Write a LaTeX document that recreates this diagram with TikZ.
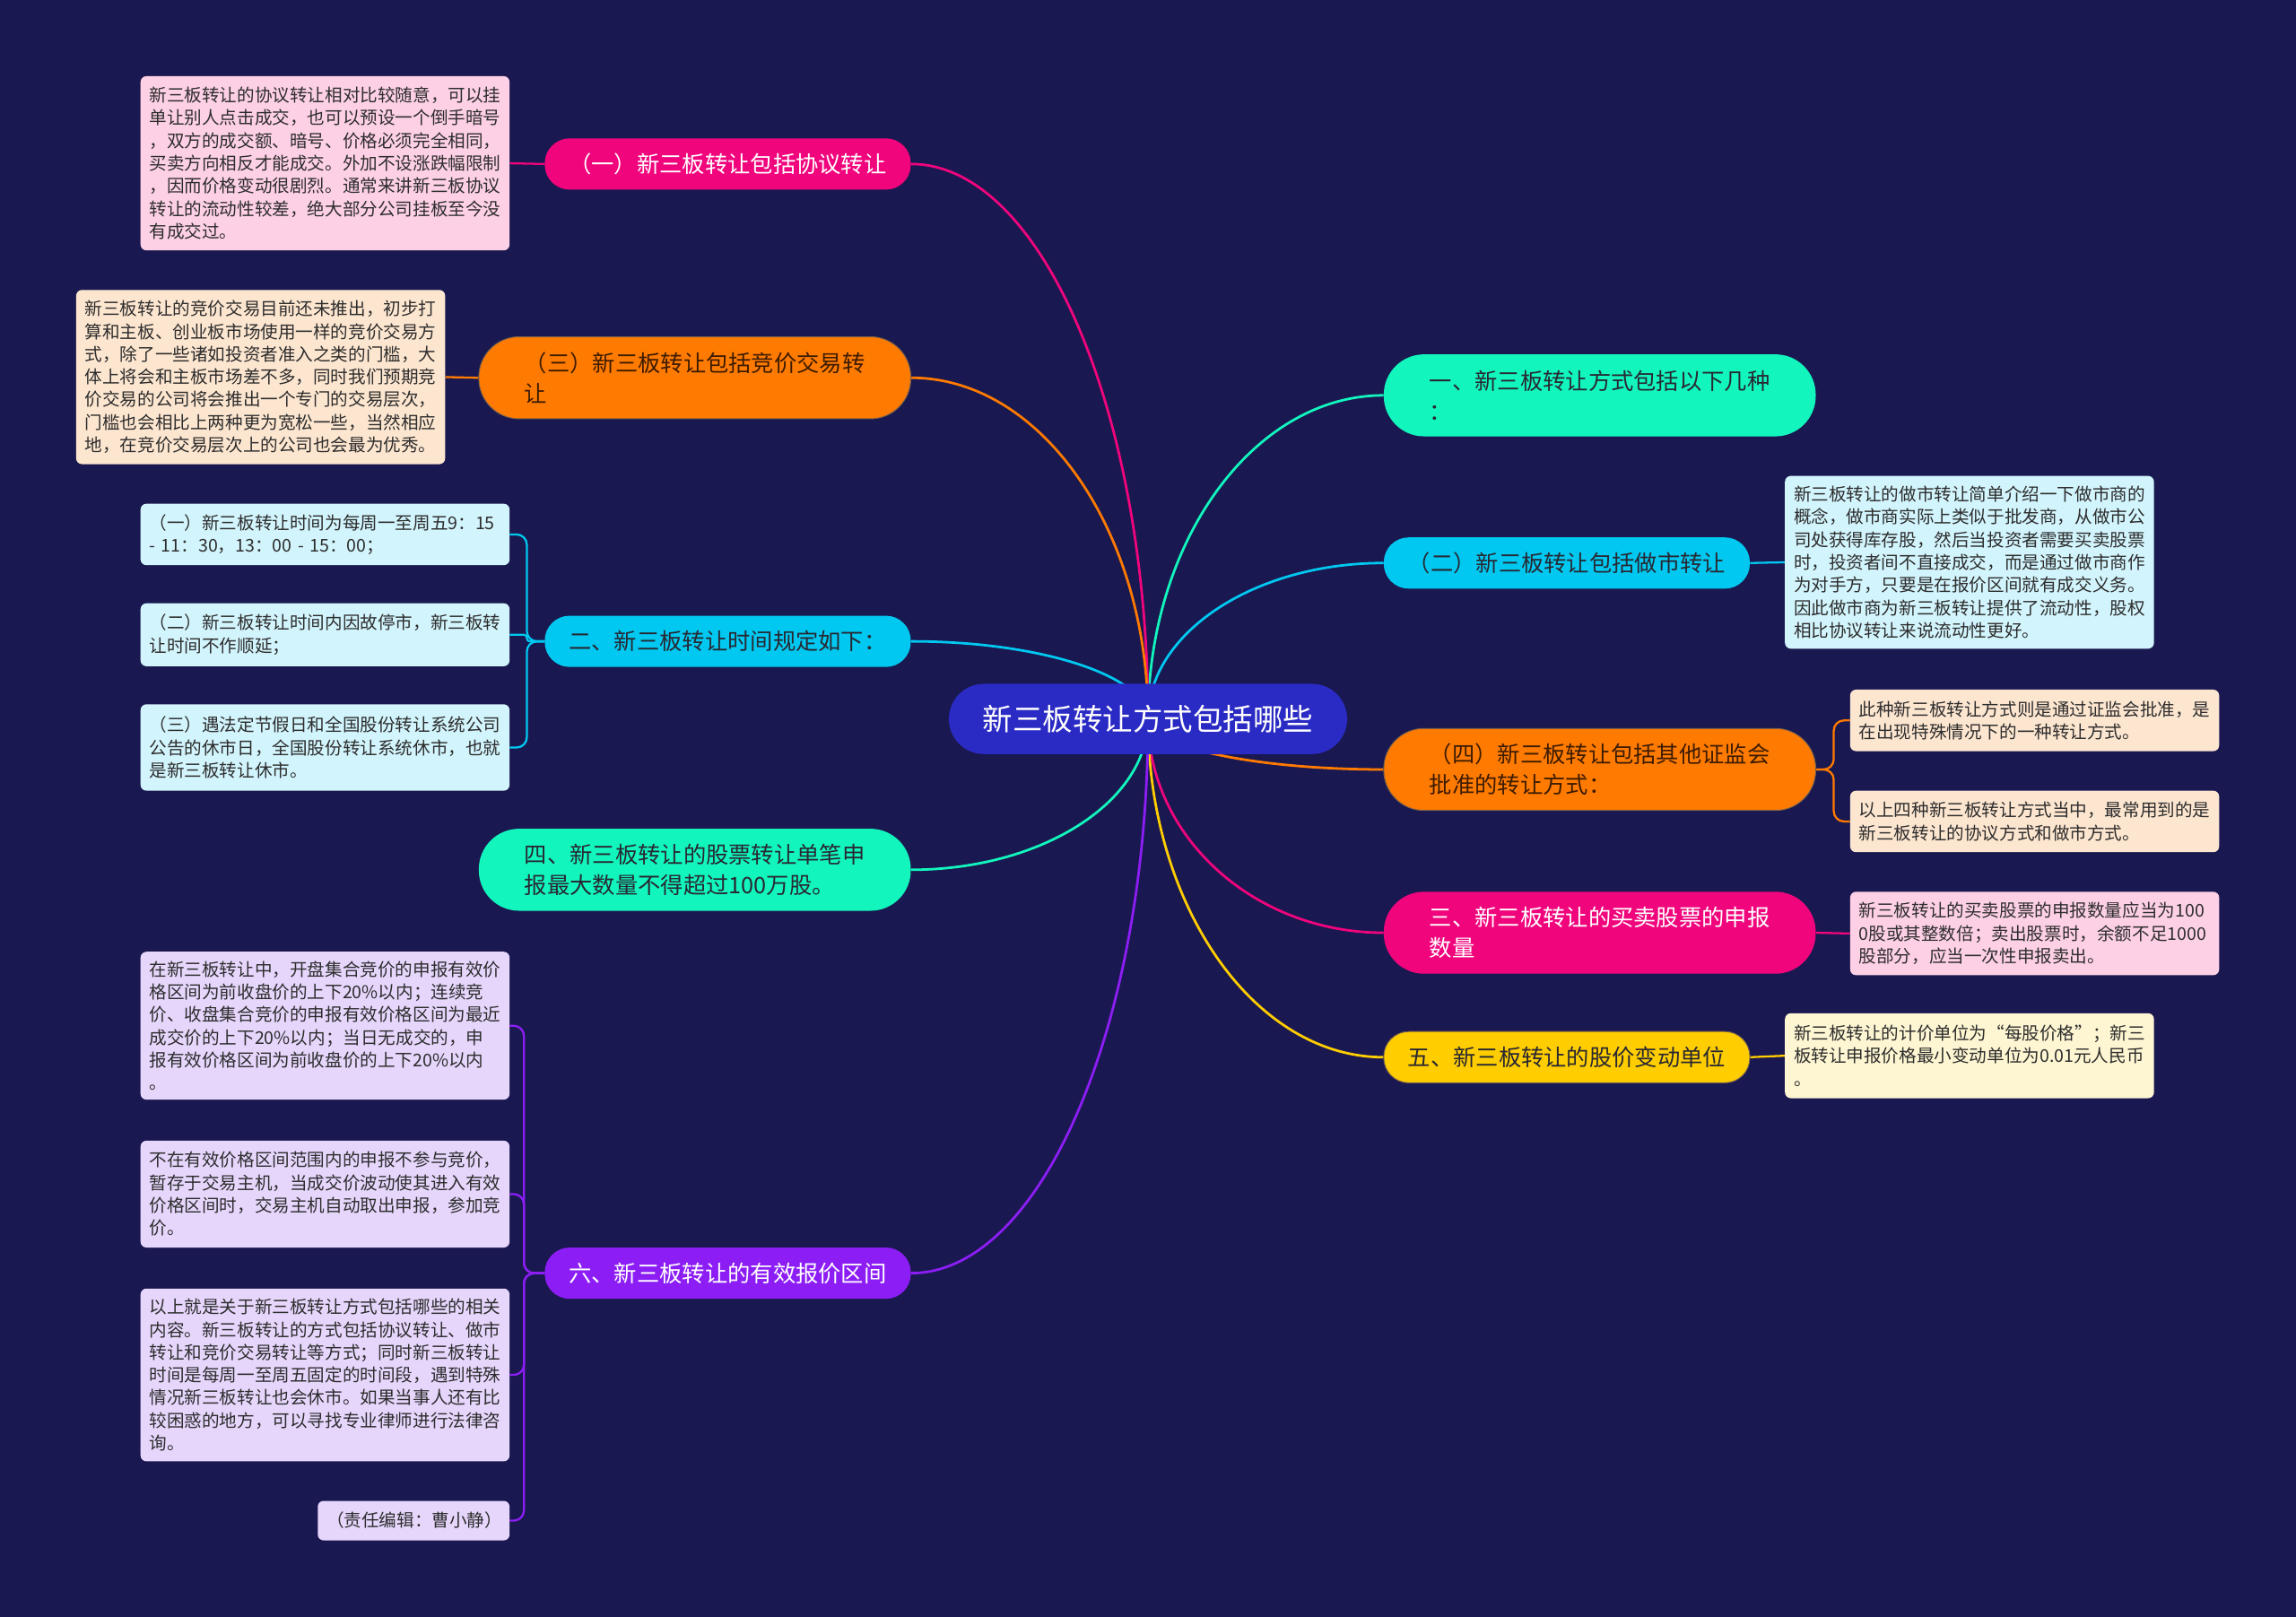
\documentclass[tikz,border=0pt]{standalone}
\usepackage{fontspec}
\setmainfont{Noto Sans CJK SC}
\usetikzlibrary{calc}
\pgfdeclarelayer{back}
\pgfdeclarelayer{edges}
\pgfsetlayers{back,edges,main}

\definecolor{bgc}{RGB}{26,24,80}
\definecolor{rootc}{RGB}{42,42,196}
\definecolor{magc}{RGB}{240,5,125}
\definecolor{orc}{RGB}{255,122,0}
\definecolor{mintc}{RGB}{18,246,190}
\definecolor{cyc}{RGB}{0,200,240}
\definecolor{yelc}{RGB}{255,205,0}
\definecolor{purc}{RGB}{140,30,245}
\definecolor{lpink}{RGB}{253,208,230}
\definecolor{lpeach}{RGB}{253,230,208}
\definecolor{lcyan}{RGB}{210,244,252}
\definecolor{lyel}{RGB}{254,246,210}
\definecolor{lpur}{RGB}{230,214,252}
\definecolor{darktxt}{RGB}{40,40,50}
\definecolor{ortxt}{RGB}{60,28,0}
\definecolor{leaftxt}{RGB}{45,45,45}

\newcommand\brfont{\fontsize{15.5}{21}\selectfont}
\newcommand\leaffont{\fontsize{12}{15.5}\selectfont}
\newcommand\rootfont{\fontsize{20.5}{24}\selectfont}

\tikzset{
  rootnode/.style={rectangle, rounded corners=24pt, fill=rootc, text=white,
    minimum width=272pt, minimum height=48pt, font=\rootfont, inner sep=0pt},
  brone/.style={rectangle, rounded corners=17pt, minimum width=250pt,
    minimum height=35pt, font=\brfont, align=left, inner sep=0pt},
  brtwo/.style={rectangle, rounded corners=27.5pt, minimum width=295pt,
    minimum height=56pt, font=\brfont, align=left, inner sep=0pt},
  leaf/.style={rectangle, rounded corners=4pt, text width=240pt, align=left,
    inner xsep=6pt, inner ysep=2pt, font=\leaffont, text=leaftxt},
  mainedge/.style={line width=1.7pt},
  subedge/.style={line width=1.4pt, rounded corners=7pt},
}

\newcommand\curveto[3]{%
  \draw[mainedge,#3] (#1.center) .. controls ($(#1.center)!0.55!(#1.center |- #2)$)
    and ($(#2)!0.55!(#1.center |- #2)$) .. (#2);}

\begin{document}
\begin{tikzpicture}[x=1pt,y=-1pt]
\useasboundingbox (0,0) rectangle (1568,1104);
\begin{pgfonlayer}{back}
\fill[bgc] (-6,-6) rectangle (1574,1110);
\end{pgfonlayer}

% root
\node[rootnode] (C) at (784,491) {新三板转让方式包括哪些};

% right branches
\node[brtwo, fill=mintc, text=darktxt] (B1) at (1092.5,270) {一、新三板转让方式包括以下几种\\：};
\node[brone, fill=cyc, text=darktxt] (B2) at (1070,384.5) {（二）新三板转让包括做市转让};
\node[brtwo, fill=orc, text=ortxt, draw=ortxt!70, line width=0.6pt] (B4) at (1092.5,525.5) {（四）新三板转让包括其他证监会\\批准的转让方式：};
\node[brtwo, fill=magc, text=white] (B3) at (1092.5,637) {三、新三板转让的买卖股票的申报\\数量};
\node[brone, fill=yelc, text=darktxt, draw=ortxt!70, line width=0.6pt] (B5) at (1070,722) {五、新三板转让的股价变动单位};

% left branches
\node[brone, fill=magc, text=white] (L1) at (497,112) {（一）新三板转让包括协议转让};
\node[brtwo, fill=orc, text=ortxt, draw=ortxt!70, line width=0.6pt] (L3) at (474.5,258) {（三）新三板转让包括竞价交易转\\让};
\node[brone, fill=cyc, text=darktxt] (L2) at (497,438) {二、新三板转让时间规定如下：};
\node[brtwo, fill=mintc, text=darktxt] (L4) at (474.5,594) {四、新三板转让的股票转让单笔申\\报最大数量不得超过100万股。};
\node[brone, fill=purc, text=white] (L6) at (497,869.5) {六、新三板转让的有效报价区间};

% left leaves
\node[leaf, fill=lpink, minimum height=119pt] (c1) at (222,111.5) {新三板转让的协议转让相对比较随意，可以挂\\单让别人点击成交，也可以预设一个倒手暗号\\，双方的成交额、暗号、价格必须完全相同，\\买卖方向相反才能成交。外加不设涨跌幅限制\\，因而价格变动很剧烈。通常来讲新三板协议\\转让的流动性较差，绝大部分公司挂板至今没\\有成交过。};
\node[leaf, fill=lpeach, minimum height=119pt] (c3) at (178,257.5) {新三板转让的竞价交易目前还未推出，初步打\\算和主板、创业板市场使用一样的竞价交易方\\式，除了一些诸如投资者准入之类的门槛，大\\体上将会和主板市场差不多，同时我们预期竞\\价交易的公司将会推出一个专门的交易层次，\\门槛也会相比上两种更为宽松一些，当然相应\\地，在竞价交易层次上的公司也会最为优秀。};
\node[leaf, fill=lcyan, minimum height=42pt] (t1) at (222,365) {（一）新三板转让时间为每周一至周五9：15\\- 11：30，13：00 - 15：00；};
\node[leaf, fill=lcyan, minimum height=43pt] (t2) at (222,433.5) {（二）新三板转让时间内因故停市，新三板转\\让时间不作顺延；};
\node[leaf, fill=lcyan, minimum height=59pt] (t3) at (222,510.5) {（三）遇法定节假日和全国股份转让系统公司\\公告的休市日，全国股份转让系统休市，也就\\是新三板转让休市。};
\node[leaf, fill=lpur, minimum height=101pt] (p1) at (222,700.5) {在新三板转让中，开盘集合竞价的申报有效价\\格区间为前收盘价的上下20\%以内；连续竞\\价、收盘集合竞价的申报有效价格区间为最近\\成交价的上下20\%以内；当日无成交的，申\\报有效价格区间为前收盘价的上下20\%以内\\。};
\node[leaf, fill=lpur, minimum height=73pt] (p2) at (222,815.5) {不在有效价格区间范围内的申报不参与竞价，\\暂存于交易主机，当成交价波动使其进入有效\\价格区间时，交易主机自动取出申报，参加竞\\价。};
\node[leaf, fill=lpur, minimum height=118pt] (p3) at (222,939) {以上就是关于新三板转让方式包括哪些的相关\\内容。新三板转让的方式包括协议转让、做市\\转让和竞价交易转让等方式；同时新三板转让\\时间是每周一至周五固定的时间段，遇到特殊\\情况新三板转让也会休市。如果当事人还有比\\较困惑的地方，可以寻找专业律师进行法律咨\\询。};
\node[leaf, fill=lpur, minimum height=27pt, text width=119pt] (p4) at (282.5,1038.5) {（责任编辑：曹小静）};

% right leaves
\node[leaf, fill=lcyan, minimum height=118pt] (r2) at (1345,384) {新三板转让的做市转让简单介绍一下做市商的\\概念，做市商实际上类似于批发商，从做市公\\司处获得库存股，然后当投资者需要买卖股票\\时，投资者间不直接成交，而是通过做市商作\\为对手方，只要是在报价区间就有成交义务。\\因此做市商为新三板转让提供了流动性，股权\\相比协议转让来说流动性更好。};
\node[leaf, fill=lpeach, minimum height=42pt] (r4a) at (1389.5,492) {此种新三板转让方式则是通过证监会批准，是\\在出现特殊情况下的一种转让方式。};
\node[leaf, fill=lpeach, minimum height=42pt] (r4b) at (1389.5,561) {以上四种新三板转让方式当中，最常用到的是\\新三板转让的协议方式和做市方式。};
\node[leaf, fill=lpink, minimum height=57pt] (r3) at (1389.5,637.5) {新三板转让的买卖股票的申报数量应当为100\\0股或其整数倍；卖出股票时，余额不足1000\\股部分，应当一次性申报卖出。};
\node[leaf, fill=lyel, minimum height=58pt] (r5) at (1345,721) {新三板转让的计价单位为“每股价格”；新三\\板转让申报价格最小变动单位为0.01元人民币\\。};

\begin{pgfonlayer}{edges}
% root to branches
\curveto{C}{B1.west}{mintc}
\curveto{C}{B2.west}{cyc}
\curveto{C}{B4.west}{orc}
\curveto{C}{B3.west}{magc}
\curveto{C}{B5.west}{yelc}
\curveto{C}{L1.east}{magc}
\curveto{C}{L3.east}{orc}
\curveto{C}{L2.east}{cyc}
\curveto{C}{L4.east}{mintc}
\curveto{C}{L6.east}{purc}
% branches to leaves
\draw[subedge, magc] (L1.west) -- (c1.east);
\draw[subedge, orc] (L3.west) -- (c3.east);
\draw[subedge, cyc] (L2.west) -- ++(-12,0) |- (t1.east);
\draw[subedge, cyc, rounded corners=2pt] (L2.west) -- ++(-12,0) |- (t2.east);
\draw[subedge, cyc] (L2.west) -- ++(-12,0) |- (t3.east);
\draw[subedge, purc] (L6.west) -- ++(-14,0) |- (p1.east);
\draw[subedge, purc] (L6.west) -- ++(-14,0) |- (p2.east);
\draw[subedge, purc] (L6.west) -- ++(-14,0) |- (p3.east);
\draw[subedge, purc] (L6.west) -- ++(-14,0) |- (p4.east);
\draw[subedge, cyc] (B2.east) -- (r2.west);
\draw[subedge, orc] (B4.east) -- ++(12,0) |- (r4a.west);
\draw[subedge, orc] (B4.east) -- ++(12,0) |- (r4b.west);
\draw[subedge, magc] (B3.east) -- (r3.west);
\draw[subedge, yelc] (B5.east) -- (r5.west);
\end{pgfonlayer}
\end{tikzpicture}
\end{document}
